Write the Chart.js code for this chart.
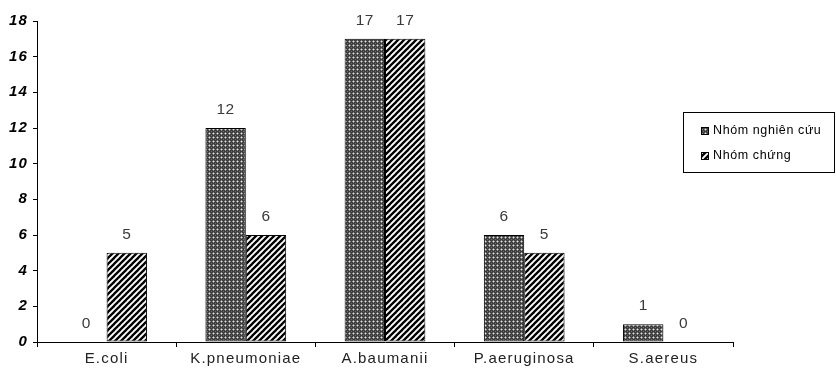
<!DOCTYPE html>
<html>
<head>
<meta charset="utf-8">
<script src="https://cdn.jsdelivr.net/npm/chart.js@4.4.1/dist/chart.umd.min.js"></script>
<style>
html,body{margin:0;padding:0;background:#fff;}
#wrap{width:836px;height:368px;}
</style>
</head>
<body>
<div id="wrap"><canvas id="c" width="836" height="368"></canvas></div>
<script>
const categories = ['E.coli', 'K.pneumoniae', 'A.baumanii', 'P.aeruginosa', 'S.aereus'];
const seriesNames = ['Nhóm nghiên cứu', 'Nhóm chứng'];
const studyGroup = [0, 12, 17, 6, 1];
const controlGroup = [5, 6, 17, 5, 0];
const yTicks = [0, 2, 4, 6, 8, 10, 12, 14, 16, 18];

function makeDots() {
  const c = document.createElement('canvas');
  c.width = 4; c.height = 4;
  const g = c.getContext('2d');
  g.fillStyle = '#3e3e3e'; g.fillRect(0, 0, 4, 4);
  g.fillStyle = '#8e8e8e';
  g.fillRect(0, 1, 1, 1); g.fillRect(2, 1, 1, 1); g.fillRect(1, 0, 1, 1); g.fillRect(1, 2, 1, 1);
  g.fillStyle = '#e2e2e2'; g.fillRect(1, 1, 1, 1);
  g.fillStyle = '#6c6c6c'; g.fillRect(3, 3, 1, 1);
  return document.getElementById('c').getContext('2d').createPattern(c, 'repeat');
}
function makeStripes() {
  const s = 6;
  const c = document.createElement('canvas');
  c.width = s; c.height = s;
  const g = c.getContext('2d');
  g.fillStyle = '#fff'; g.fillRect(0, 0, s, s);
  g.strokeStyle = '#000'; g.lineWidth = 2.3;
  for (let k = -1; k <= 1; k++) {
    g.beginPath();
    g.moveTo(k * s - 1, s + 1);
    g.lineTo(k * s + s + 1, -1);
    g.stroke();
  }
  return document.getElementById('c').getContext('2d').createPattern(c, 'repeat');
}
const fills = [makeDots(), makeStripes()];

const spacingPlugin = {
  id: 'spacing',
  beforeInit(chart) { chart.ctx.letterSpacing = '1.2px'; },
  beforeDraw(chart) { chart.ctx.letterSpacing = '1.2px'; }
};

const valueLabels = {
  id: 'valueLabels',
  afterDatasetsDraw(chart) {
    const ctx = chart.ctx;
    ctx.save();
    ctx.letterSpacing = '0.5px';
    ctx.font = '15.5px "Liberation Sans", Arial, sans-serif';
    ctx.fillStyle = '#3a3a3a';
    ctx.textAlign = 'center';
    ctx.textBaseline = 'middle';
    chart.data.datasets.forEach((ds, i) => {
      const meta = chart.getDatasetMeta(i);
      meta.data.forEach((el, j) => {
        ctx.fillText(String(ds.data[j]), el.x, el.y - 18);
      });
    });
    ctx.restore();
  }
};

const boxLegend = {
  id: 'boxLegend',
  afterDraw(chart) {
    const ctx = chart.ctx;
    ctx.save();
    ctx.letterSpacing = '0.6px';
    const x0 = 683.5, y0 = 112.5, w = 151, h = 60;
    ctx.fillStyle = '#fff';
    ctx.fillRect(x0, y0, w, h);
    ctx.strokeStyle = '#000';
    ctx.lineWidth = 1;
    ctx.strokeRect(x0, y0, w, h);
    ctx.font = '12.5px "Liberation Sans", Arial, sans-serif';
    ctx.textBaseline = 'middle';
    ctx.textAlign = 'left';
    chart.data.datasets.forEach((ds, i) => {
      const cy = 131 + i * 25;
      ctx.fillStyle = ds.backgroundColor;
      ctx.fillRect(701, cy - 4, 8, 8);
      ctx.strokeStyle = '#000';
      ctx.strokeRect(701.5, cy - 3.5, 7, 7);
      ctx.fillStyle = '#000';
      ctx.fillText(ds.label, 713, cy);
    });
    ctx.restore();
  }
};

new Chart(document.getElementById('c'), {
  type: 'bar',
  data: {
    labels: categories,
    datasets: [
      { label: seriesNames[0], data: studyGroup, backgroundColor: fills[0], borderColor: '#000', borderWidth: 1, borderSkipped: false },
      { label: seriesNames[1], data: controlGroup, backgroundColor: fills[1], borderColor: '#000', borderWidth: 1, borderSkipped: false }
    ]
  },
  options: {
    responsive: false,
    animation: false,
    devicePixelRatio: 1,
    layout: { padding: { top: 21, right: 103, left: 0, bottom: 0 } },
    datasets: { bar: { categoryPercentage: 0.58, barPercentage: 1.0 } },
    plugins: { legend: { display: false }, tooltip: { enabled: false } },
    scales: {
      x: {
        afterFit(s) { s.height = 26; },
        grid: { display: true, drawOnChartArea: false, drawTicks: true, tickLength: 5, color: '#000', offset: true },
        border: { display: true, color: '#000', width: 1 },
        ticks: { color: '#222', padding: 3, font: { family: '"Liberation Sans", Arial, sans-serif', size: 15 }, maxRotation: 0 }
      },
      y: {
        min: 0, max: 18,
        afterBuildTicks(s) { s.ticks = yTicks.map(v => ({ value: v })); },
        afterFit(s) { s.width = 37; },
        grid: { display: true, drawOnChartArea: false, drawTicks: true, tickLength: 4, color: '#000' },
        border: { display: true, color: '#000', width: 1 },
        ticks: { color: '#000', padding: 5, font: { family: '"Liberation Sans", Arial, sans-serif', size: 15, weight: 'bold', style: 'italic' } }
      }
    }
  },
  plugins: [spacingPlugin, valueLabels, boxLegend]
});
</script>
</body>
</html>
